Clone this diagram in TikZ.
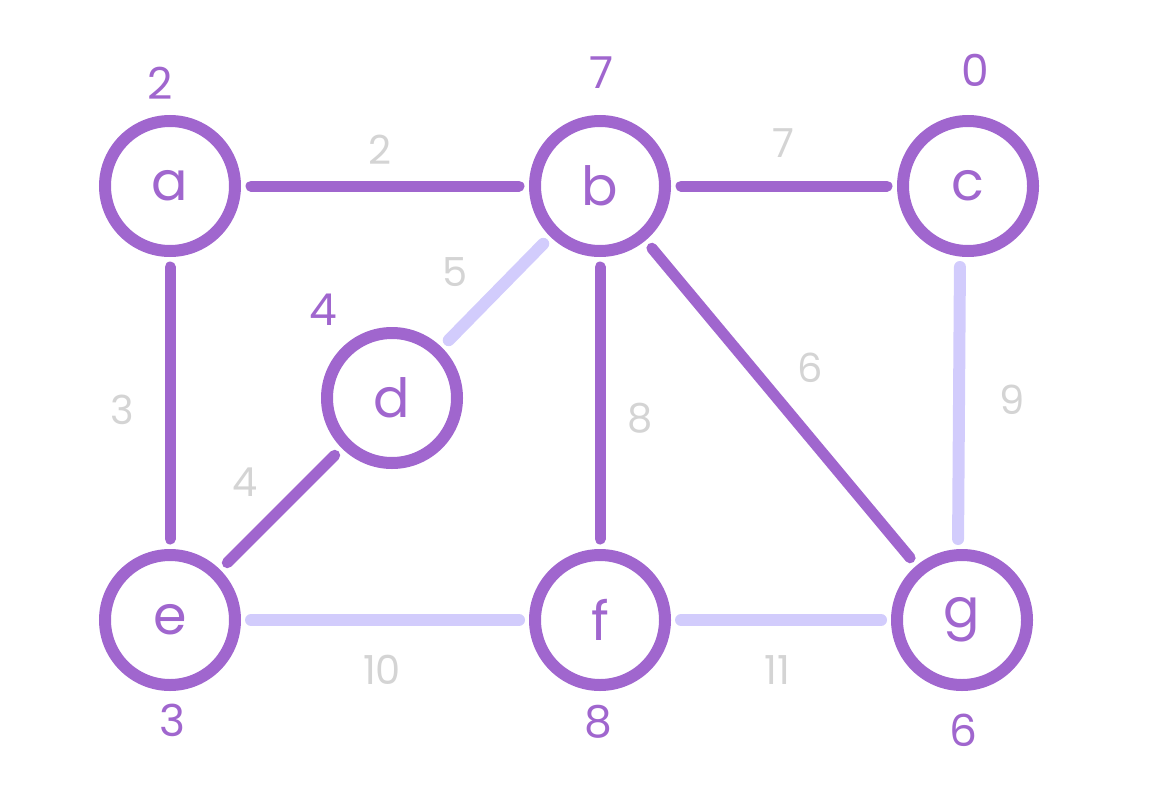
\documentclass[tikz,border=0pt]{standalone}
\usepackage{fontspec}
\setmainfont{Poppins}
\definecolor{vio}{HTML}{A066CE}
\definecolor{lav}{HTML}{D2CCFC}
\definecolor{lgray}{HTML}{D4D4D4}
\begin{document}
\begin{tikzpicture}[x=1pt,y=-1pt,
  vert/.style={circle,draw=vio,line width=12pt,minimum size=130pt,inner sep=0pt,
    text=vio,font=\fontsize{54}{54}\selectfont},
  hv/.style={vio,line width=11pt,line cap=round,shorten <=10pt,shorten >=10pt},
  lt/.style={lav,line width=12pt,line cap=round,shorten <=10pt,shorten >=10pt},
  wt/.style={text=vio,font=\fontsize{44}{44}\selectfont},
  el/.style={text=lgray,font=\fontsize{40}{40}\selectfont}]
\useasboundingbox (0,0) rectangle (1150,800);
\node[vert] (a) at (170,186) {a};
\node[vert] (b) at (600,186) {b};
\node[vert] (c) at (968,186) {c};
\node[vert] (d) at (392,398) {d};
\node[vert] (e) at (170,620) {e};
\node[vert] (f) at (600,620) {f};
\node[vert] (g) at (962,620) {g};
\node[wt] (wa) at (160,83) {2};
\node[wt] (wb) at (602,73) {7};
\node[wt] (wc) at (975,70) {0};
\node[wt] (wd) at (323,310) {4};
\node[wt] (we) at (172,720) {3};
\node[wt] (wf) at (598,722) {8};
\node[wt] (wg) at (963,730) {6};
\draw[hv] (a) -- (b);
\draw[hv] (b) -- (c);
\draw[hv] (a) -- (e);
\draw[lt] (d) -- (b);
\draw[hv] (e) -- (d);
\draw[hv] (b) -- (f);
\draw[hv] (b) -- (g);
\draw[lt] ([xshift=-8pt]c.south) -- ([xshift=-4pt]g.north);
\draw[lt] (e) -- (f);
\draw[lt] (f) -- (g);
\node[el] (lab) at (380,150) {2};
\node[el] (lbc) at (783,143) {7};
\node[el] (lae) at (122,410) {3};
\node[el] (ldb) at (455,272) {5};
\node[el] (led) at (245,482) {4};
\node[el] (lbf) at (640,418) {8};
\node[el] (lbg) at (810,368) {6};
\node[el] (lcg) at (1012,400) {9};
\node[el] (lef) at (382,670) {10};
\node[el] (lfg) at (777,670) {11};
\end{tikzpicture}
\end{document}
